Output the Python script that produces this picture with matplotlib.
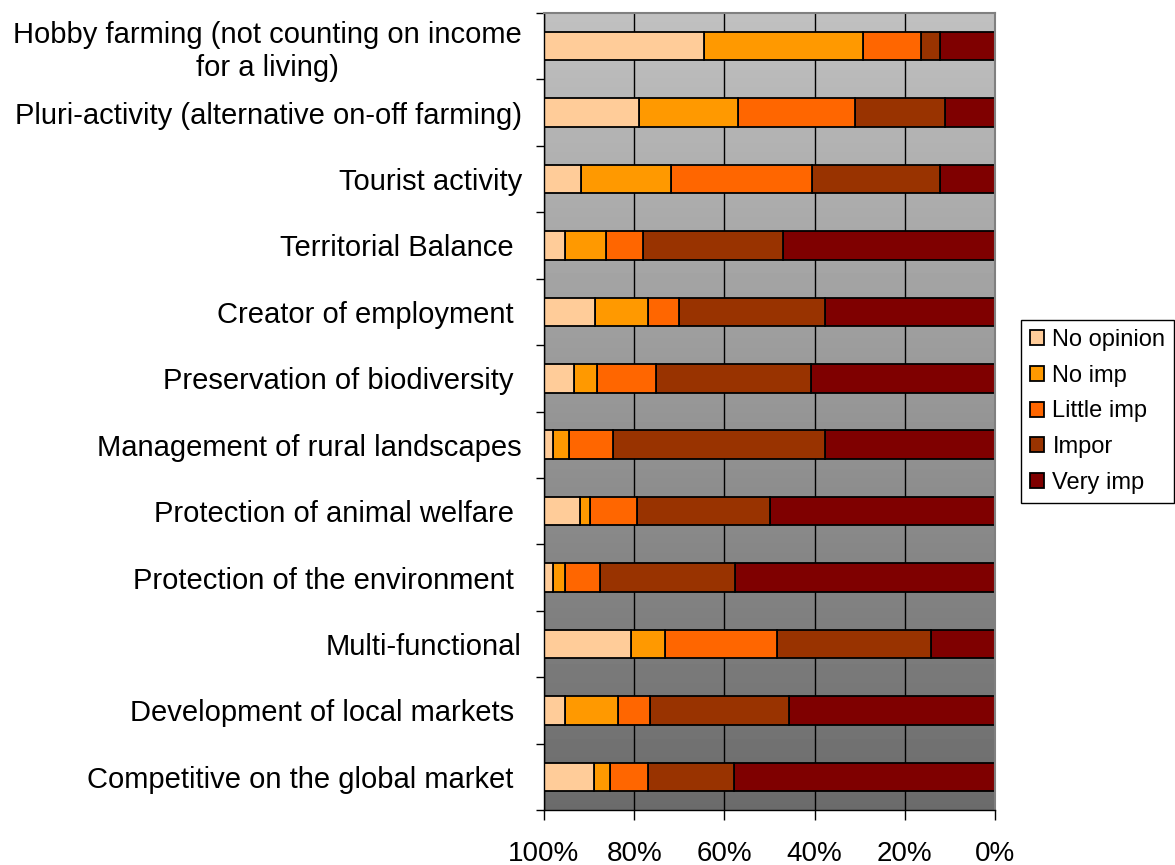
import numpy as np
import matplotlib
matplotlib.use('Agg')
import matplotlib.pyplot as plt

plt.rcParams['font.family'] = ['Liberation Sans', 'DejaVu Sans']

# survey answers, % of respondents per statement
statements = [
    'Hobby farming (not counting on income\nfor a living)',
    'Pluri-activity (alternative on-off farming)',
    'Tourist activity',
    'Territorial Balance ',
    'Creator of employment ',
    'Preservation of biodiversity ',
    'Management of rural landscapes',
    'Protection of animal welfare ',
    'Protection of the environment ',
    'Multi-functional',
    'Development of local markets ',
    'Competitive on the global market ',
]
no_opinion = [35.4, 21.0, 8.3, 4.6, 11.4, 6.6, 2.1, 8.0, 2.1, 19.4, 4.6, 11.1]
no_imp     = [35.4, 22.0, 20.0, 9.1, 11.6, 5.2, 3.5, 2.3, 2.5, 7.5, 11.9, 3.5]
little_imp = [12.9, 26.0, 31.2, 8.3, 7.0, 13.0, 9.6, 10.4, 7.8, 24.7, 7.0, 8.4]
impor      = [4.2, 19.9, 28.5, 30.9, 32.2, 34.3, 47.0, 29.5, 30.0, 34.2, 30.9, 19.1]
very_imp   = [12.1, 11.1, 12.1, 47.1, 37.8, 40.9, 37.8, 49.8, 57.6, 14.2, 45.6, 57.9]

series_names = ['No opinion', 'No imp', 'Little imp', 'Impor', 'Very imp']
colors = ['#ffcc99', '#ff9900', '#ff6600', '#993300', '#7f0000']

fig = plt.figure(figsize=(11.75, 8.65), dpi=100)
ax = fig.add_axes([544/1175, 1 - 810/865, 451/1175, 797/865])

n = len(statements)
ypos = np.arange(n)

# grey gradient backdrop, light at top
grad = np.linspace(0.753, 0.42, 256).reshape(-1, 1)
ax.imshow(grad, cmap='gray', vmin=0, vmax=1, aspect='auto',
          extent=(0, 1, 0, 1), transform=ax.transAxes, zorder=0,
          interpolation='bilinear')

# stack from 0% (right side) outwards: very imp first
stack = [very_imp, impor, little_imp, no_imp, no_opinion]
stack_colors = colors[::-1]
stack_names = series_names[::-1]
left = np.zeros(n)
handles = {}
for vals, col, name in zip(stack, stack_colors, stack_names):
    vals = np.array(vals)
    b = ax.barh(ypos, vals, left=left, height=0.43, color=col,
                edgecolor='black', linewidth=1.3, zorder=2, label=name)
    handles[name] = b
    left = left + vals

ax.set_xlim(100, 0)
ax.set_ylim(n - 0.5, -0.5)

ax.set_xticks([0, 20, 40, 60, 80, 100])
ax.set_xticklabels(['0%', '20%', '40%', '60%', '80%', '100%'], fontsize=20)
ax.tick_params(axis='x', direction='out', length=7, width=1, pad=15)

ax.set_yticks(ypos)
ax.set_yticklabels(statements, fontsize=21, ha='right', multialignment='center')
ax.set_yticks(np.arange(n + 1) - 0.5, minor=True)
ax.tick_params(axis='y', which='major', length=0, pad=16)
ax.tick_params(axis='y', which='minor', direction='out', length=6, width=1)

ax.grid(axis='x', color='black', linewidth=1, zorder=1)
ax.set_axisbelow(True)

for s in ['top', 'right']:
    ax.spines[s].set_color('#808080')
    ax.spines[s].set_linewidth(1.5)
for s in ['left', 'bottom']:
    ax.spines[s].set_color('black')
    ax.spines[s].set_linewidth(1)

leg = fig.legend([handles[nm] for nm in series_names], series_names,
                 loc='upper left', bbox_to_anchor=(1021/1175, 1 - 320/865),
                 bbox_transform=fig.transFigure, borderaxespad=0,
                 fontsize=17, fancybox=False, edgecolor='black', framealpha=1,
                 handlelength=0.6, handleheight=0.6, handletextpad=0.35,
                 labelspacing=0.58, borderpad=0.38)
leg.get_frame().set_linewidth(1)

fig.savefig('out.png', dpi=100)
